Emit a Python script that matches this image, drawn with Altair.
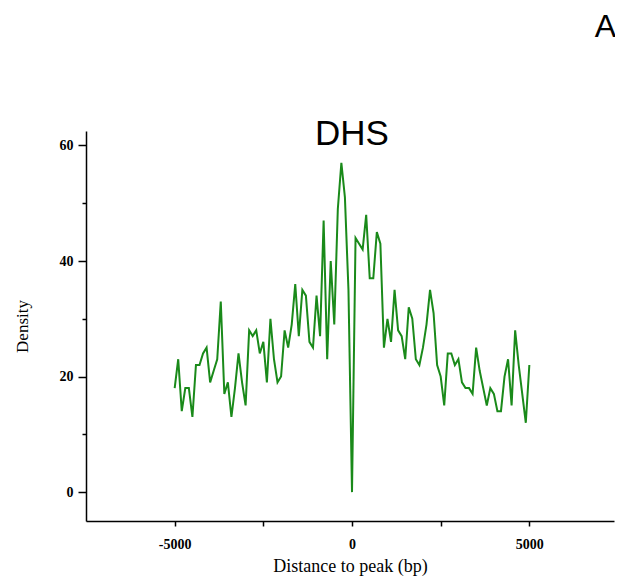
import altair as alt
import pandas as pd

# Distance to peak (bp), 100 bp steps from -5000 to 5000
positions = list(range(-5000, 5001, 100))
density = [
    18, 23, 14, 18, 18, 13, 22, 22, 24, 25,   # -5000 .. -4100
    19, 21, 23, 33, 17, 19, 13, 18, 24, 19,   # -4000 .. -3100
    15, 28, 27, 28, 24, 26, 19, 30, 23, 19,   # -3000 .. -2100
    20, 28, 25, 29, 36, 27, 35, 34, 26, 25,   # -2000 .. -1100
    34, 27, 47, 23, 40, 29, 49, 57, 51, 35,   # -1000 .. -100
    0,                                        # 0
    44, 43, 42, 48, 37, 37, 45, 43, 25, 30,   # 100 .. 1000
    26, 35, 28, 27, 23, 32, 30, 23, 22, 25,   # 1100 .. 2000
    29, 35, 31, 22, 20, 15, 24, 24, 22, 23,   # 2100 .. 3000
    19, 18, 18, 17, 25, 21, 18, 15, 18, 17,   # 3100 .. 4000
    14, 14, 20, 23, 15, 28, 22, 17, 12, 22,   # 4100 .. 5000
]

x_ticks = [-5000, -2500, 0, 2500, 5000]
y_ticks = [0, 10, 20, 30, 40, 50, 60]
title_text = "DHS"
panel_label = "A"

df = pd.DataFrame({"pos": positions, "density": density})

serif = "Liberation Serif"
sans = "Liberation Sans"

line = alt.Chart(df).mark_line(color="#1a8a1a", strokeWidth=2).encode(
    x=alt.X(
        "pos:Q",
        scale=alt.Scale(domain=[-7500, 7387], nice=False, zero=False),
        axis=alt.Axis(
            title="Distance to peak (bp)",
            values=x_ticks,
            labelExpr="datum.value % 5000 === 0 ? toString(datum.value) : ''",
            grid=False,
            domainColor="black",
            domainWidth=1.5,
            tickColor="black",
            tickWidth=1.5,
            tickSize=5,
            labelFont=serif,
            labelFontWeight="bold",
            labelFontSize=14,
            labelColor="black",
            labelPadding=11,
            titleFont=serif,
            titleFontWeight="normal",
            titleFontSize=18,
            titleColor="black",
            titleBaseline="alphabetic",
            titleY=50,
        ),
    ),
    y=alt.Y(
        "density:Q",
        scale=alt.Scale(domain=[-5, 62.5], nice=False, zero=False),
        axis=alt.Axis(
            title="Density",
            values=y_ticks,
            labelExpr="datum.value % 20 === 0 ? toString(datum.value) : ''",
            grid=False,
            domainColor="black",
            domainWidth=1.5,
            tickColor="black",
            tickWidth=1.5,
            tickSize={"condition": {"test": "datum.value % 20 === 0", "value": 8}, "value": 4},
            labelFont=serif,
            labelFontWeight="bold",
            labelFontSize=14,
            labelColor="black",
            labelPadding=5,
            titleFont=serif,
            titleFontWeight="normal",
            titleFontSize=17,
            titleColor="black",
            titleBaseline="middle",
            titleX=-64,
        ),
    ),
)

dhs = alt.Chart(pd.DataFrame({"t": [title_text]})).mark_text(
    font=sans, fontSize=35, color="black", align="center", baseline="alphabetic"
).encode(text="t:N", x=alt.value(266), y=alt.value(14))

alabel = alt.Chart(pd.DataFrame({"t": [panel_label]})).mark_text(
    font=sans, fontSize=32, color="black", align="center", baseline="alphabetic"
).encode(text="t:N", x=alt.value(519.5), y=alt.value(-94))

chart = alt.layer(line, dhs, alabel).properties(
    width=528,
    height=390,
    padding={"left": 78, "top": 123, "right": 1, "bottom": 55},
    autosize=alt.AutoSizeParams(type="none"),
    background="white",
).configure_view(stroke=None)

chart.save("out.html", embed_options={"renderer": "svg", "actions": False})
